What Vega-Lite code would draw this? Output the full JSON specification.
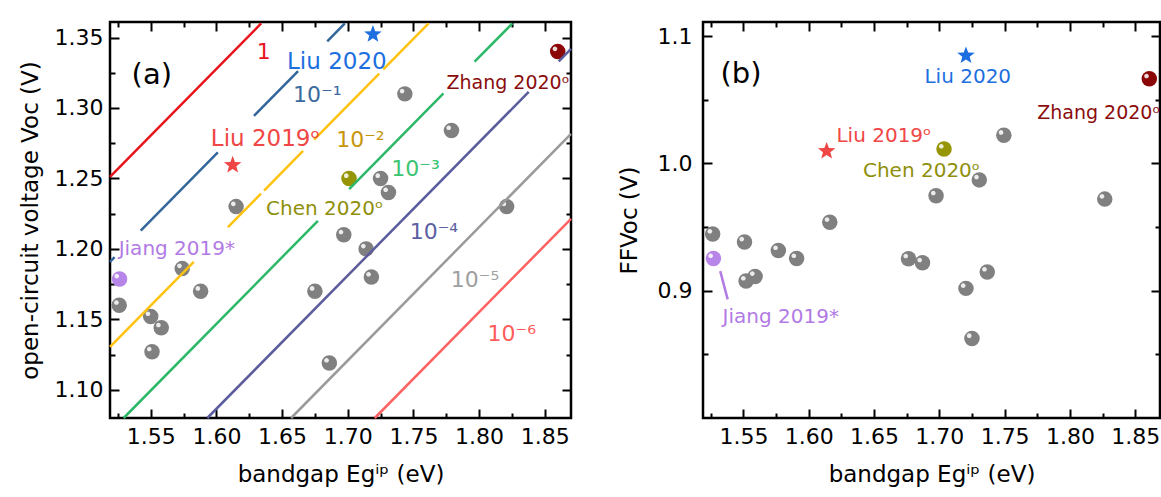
{
  "$schema": "https://vega.github.io/schema/vega-lite/v6.json",
  "padding": {"left": 17, "top": 17, "right": 2, "bottom": 2},
  "spacing": 38,
  "config": {
    "view": {"stroke": "#000000", "strokeWidth": 2.5},
    "font": "DejaVu Sans",
    "axis": {"grid": false, "domain": false, "tickColor": "#000000", "tickWidth": 2, "labelFont": "DejaVu Sans", "labelFontSize": 22, "labelColor": "#000000", "titleFont": "DejaVu Sans", "titleFontSize": 23, "titleFontWeight": "normal", "titleColor": "#000000"},
    "text": {"font": "DejaVu Sans", "align": "left", "baseline": "alphabetic"}
  },
  "datasets": {
    "lines_a": [
      {"ere": "1", "seg": "r1", "x": 1.519, "v": 1.2511}, {"ere": "1", "seg": "r1", "x": 1.6341, "v": 1.3600},
      {"ere": "10-1", "seg": "b1", "x": 1.519, "v": 1.1908}, {"ere": "10-1", "seg": "b1", "x": 1.5225, "v": 1.1941},
      {"ere": "10-1", "seg": "b2", "x": 1.5424, "v": 1.2129}, {"ere": "10-1", "seg": "b2", "x": 1.6011, "v": 1.2684},
      {"ere": "10-1", "seg": "b3", "x": 1.6286, "v": 1.2944}, {"ere": "10-1", "seg": "b3", "x": 1.6622, "v": 1.3262},
      {"ere": "10-1", "seg": "b4", "x": 1.6844, "v": 1.3472}, {"ere": "10-1", "seg": "b4", "x": 1.6978, "v": 1.3600},
      {"ere": "10-2", "seg": "y1", "x": 1.519, "v": 1.1305}, {"ere": "10-2", "seg": "y1", "x": 1.5828, "v": 1.1908},
      {"ere": "10-2", "seg": "y2", "x": 1.6088, "v": 1.2154}, {"ere": "10-2", "seg": "y2", "x": 1.634, "v": 1.2392},
      {"ere": "10-2", "seg": "y3", "x": 1.6363, "v": 1.2414}, {"ere": "10-2", "seg": "y3", "x": 1.666, "v": 1.2695},
      {"ere": "10-2", "seg": "y4", "x": 1.6744, "v": 1.2775}, {"ere": "10-2", "seg": "y4", "x": 1.724, "v": 1.3244},
      {"ere": "10-2", "seg": "y5", "x": 1.7271, "v": 1.3273}, {"ere": "10-2", "seg": "y5", "x": 1.7616, "v": 1.3600},
      {"ere": "10-3", "seg": "g1", "x": 1.5294, "v": 1.08}, {"ere": "10-3", "seg": "g1", "x": 1.6773, "v": 1.2199},
      {"ere": "10-3", "seg": "g2", "x": 1.7011, "v": 1.2424}, {"ere": "10-3", "seg": "g2", "x": 1.7729, "v": 1.3103},
      {"ere": "10-3", "seg": "g3", "x": 1.7966, "v": 1.3328}, {"ere": "10-3", "seg": "g3", "x": 1.8254, "v": 1.3600},
      {"ere": "10-4", "seg": "s1", "x": 1.5931, "v": 1.08}, {"ere": "10-4", "seg": "s1", "x": 1.8378, "v": 1.3114},
      {"ere": "10-4", "seg": "s2", "x": 1.8607, "v": 1.3331}, {"ere": "10-4", "seg": "s2", "x": 1.87, "v": 1.3419},
      {"ere": "10-5", "seg": "k1", "x": 1.6569, "v": 1.08}, {"ere": "10-5", "seg": "k1", "x": 1.87, "v": 1.2816},
      {"ere": "10-6", "seg": "l1", "x": 1.7206, "v": 1.08}, {"ere": "10-6", "seg": "l1", "x": 1.87, "v": 1.2213}
    ],
    "balls_a": [
      {"kind": "other", "x": 1.526, "v": 1.16}, {"kind": "other", "x": 1.55, "v": 1.152}, {"kind": "other", "x": 1.558, "v": 1.144},
      {"kind": "other", "x": 1.551, "v": 1.127}, {"kind": "other", "x": 1.574, "v": 1.186}, {"kind": "other", "x": 1.588, "v": 1.17},
      {"kind": "other", "x": 1.615, "v": 1.23}, {"kind": "other", "x": 1.675, "v": 1.17}, {"kind": "other", "x": 1.686, "v": 1.119},
      {"kind": "other", "x": 1.697, "v": 1.21}, {"kind": "other", "x": 1.714, "v": 1.2}, {"kind": "other", "x": 1.718, "v": 1.18},
      {"kind": "other", "x": 1.725, "v": 1.25}, {"kind": "other", "x": 1.731, "v": 1.24}, {"kind": "other", "x": 1.7435, "v": 1.31},
      {"kind": "other", "x": 1.779, "v": 1.284}, {"kind": "other", "x": 1.821, "v": 1.23},
      {"kind": "Chen", "x": 1.701, "v": 1.25}, {"kind": "Zhang", "x": 1.8599, "v": 1.34}, {"kind": "Jiang", "x": 1.5263, "v": 1.1787}
    ],
    "balls_b": [
      {"kind": "other", "x": 1.5264, "v": 0.9445}, {"kind": "other", "x": 1.5508, "v": 0.9383}, {"kind": "other", "x": 1.552, "v": 0.9076},
      {"kind": "other", "x": 1.5589, "v": 0.9112}, {"kind": "other", "x": 1.5767, "v": 0.9315}, {"kind": "other", "x": 1.5907, "v": 0.9252},
      {"kind": "other", "x": 1.6161, "v": 0.9537}, {"kind": "other", "x": 1.6764, "v": 0.925}, {"kind": "other", "x": 1.6871, "v": 0.9219},
      {"kind": "other", "x": 1.6975, "v": 0.9745}, {"kind": "other", "x": 1.7204, "v": 0.9018}, {"kind": "other", "x": 1.725, "v": 0.8625},
      {"kind": "other", "x": 1.7306, "v": 0.987}, {"kind": "other", "x": 1.7367, "v": 0.9146}, {"kind": "other", "x": 1.7494, "v": 1.0221},
      {"kind": "other", "x": 1.8267, "v": 0.9719},
      {"kind": "Chen", "x": 1.7036, "v": 1.0112}, {"kind": "Zhang", "x": 1.8608, "v": 1.0664}, {"kind": "Jiang", "x": 1.527, "v": 0.9252}
    ]
  },
  "hconcat": [
    {
      "width": 461,
      "height": 396,
      "resolve": {"axis": {"x": "independent", "y": "independent"}},
      "encoding": {
        "x": {"field": "x", "type": "quantitative", "scale": {"domain": [1.519, 1.87], "nice": false, "zero": false}, "axis": null},
        "y": {"field": "v", "type": "quantitative", "scale": {"domain": [1.08, 1.361], "nice": false, "zero": false}, "axis": null}
      },
      "layer": [
        {"data": {"name": "balls_a"}, "transform": [{"filter": {"field": "kind", "equal": "other"}}],
         "mark": {"type": "point", "shape": "circle", "filled": true, "size": 240, "strokeWidth": 0, "opacity": 1, "color": "#808080"},
         "encoding": {
           "x": {"field": "x", "type": "quantitative", "scale": {"domain": [1.519, 1.87], "nice": false, "zero": false},
             "axis": {"orient": "bottom", "values": [1.55, 1.6, 1.65, 1.7, 1.75, 1.8, 1.85], "format": ".2f", "tickSize": -9, "labelPadding": 17, "title": "bandgap Egⁱᵖ (eV)", "titlePadding": 16}},
           "y": {"field": "v", "type": "quantitative", "scale": {"domain": [1.08, 1.361], "nice": false, "zero": false},
             "axis": {"orient": "left", "values": [1.1, 1.15, 1.2, 1.25, 1.3, 1.35], "format": ".2f", "tickSize": -9, "labelPadding": 16, "title": "open-circuit voltage Voc (V)", "titlePadding": 12}}
         }},
        {"data": {"name": "balls_a"}, "transform": [{"filter": {"field": "kind", "equal": "Chen"}}],
         "mark": {"type": "point", "shape": "circle", "filled": true, "size": 240, "strokeWidth": 0, "opacity": 1, "color": "#959505"},
         "encoding": {
           "x": {"field": "x", "type": "quantitative", "scale": {"domain": [1.519, 1.87], "nice": false, "zero": false},
             "axis": {"orient": "bottom", "values": [1.525, 1.575, 1.625, 1.675, 1.725, 1.775, 1.825], "tickSize": -5, "labels": false, "title": null}},
           "y": {"field": "v", "type": "quantitative", "scale": {"domain": [1.08, 1.361], "nice": false, "zero": false},
             "axis": {"orient": "left", "values": [1.125, 1.175, 1.225, 1.275, 1.325], "tickSize": -5, "labels": false, "title": null}}
         }},
        {"data": {"name": "balls_a"}, "transform": [{"filter": {"field": "kind", "equal": "Zhang"}}],
         "mark": {"type": "point", "shape": "circle", "filled": true, "size": 240, "strokeWidth": 0, "opacity": 1, "color": "#8b0606"},
         "encoding": {
           "x": {"field": "x", "type": "quantitative", "scale": {"domain": [1.519, 1.87], "nice": false, "zero": false},
             "axis": {"orient": "top", "values": [1.55, 1.6, 1.65, 1.7, 1.75, 1.8, 1.85], "tickSize": -9, "labels": false, "title": null}},
           "y": {"field": "v", "type": "quantitative", "scale": {"domain": [1.08, 1.361], "nice": false, "zero": false},
             "axis": {"orient": "right", "values": [1.1, 1.15, 1.2, 1.25, 1.3, 1.35], "tickSize": -9, "labels": false, "title": null}}
         }},
        {"data": {"name": "balls_a"}, "transform": [{"filter": {"field": "kind", "equal": "Jiang"}}],
         "mark": {"type": "point", "shape": "circle", "filled": true, "size": 240, "strokeWidth": 0, "opacity": 1, "color": "#b784e8"},
         "encoding": {
           "x": {"field": "x", "type": "quantitative", "scale": {"domain": [1.519, 1.87], "nice": false, "zero": false},
             "axis": {"orient": "top", "values": [1.525, 1.575, 1.625, 1.675, 1.725, 1.775, 1.825], "tickSize": -5, "labels": false, "title": null}},
           "y": {"field": "v", "type": "quantitative", "scale": {"domain": [1.08, 1.361], "nice": false, "zero": false},
             "axis": {"orient": "right", "values": [1.125, 1.175, 1.225, 1.275, 1.325], "tickSize": -5, "labels": false, "title": null}}
         }},
        {"data": {"name": "balls_a"},
         "mark": {"type": "point", "filled": true, "size": 240, "strokeWidth": 0, "opacity": 0.85, "color": "#ffffff",
           "shape": "M -0.66 -0.36 A 0.3 0.3 0 1 1 -0.06 -0.36 A 0.3 0.3 0 1 1 -0.66 -0.36 Z"}},
        {"data": {"name": "lines_a"}, "transform": [{"filter": {"field": "ere", "equal": "1"}}],
         "mark": {"type": "line", "strokeWidth": 2.5, "color": "#e8141c"}, "encoding": {"detail": {"field": "seg", "type": "nominal"}}},
        {"data": {"name": "lines_a"}, "transform": [{"filter": {"field": "ere", "equal": "10-1"}}],
         "mark": {"type": "line", "strokeWidth": 2.5, "color": "#33669a"}, "encoding": {"detail": {"field": "seg", "type": "nominal"}}},
        {"data": {"name": "lines_a"}, "transform": [{"filter": {"field": "ere", "equal": "10-2"}}],
         "mark": {"type": "line", "strokeWidth": 2.5, "color": "#ffc20e"}, "encoding": {"detail": {"field": "seg", "type": "nominal"}}},
        {"data": {"name": "lines_a"}, "transform": [{"filter": {"field": "ere", "equal": "10-3"}}],
         "mark": {"type": "line", "strokeWidth": 2.5, "color": "#2cb868"}, "encoding": {"detail": {"field": "seg", "type": "nominal"}}},
        {"data": {"name": "lines_a"}, "transform": [{"filter": {"field": "ere", "equal": "10-4"}}],
         "mark": {"type": "line", "strokeWidth": 2.5, "color": "#5a5c9c"}, "encoding": {"detail": {"field": "seg", "type": "nominal"}}},
        {"data": {"name": "lines_a"}, "transform": [{"filter": {"field": "ere", "equal": "10-5"}}],
         "mark": {"type": "line", "strokeWidth": 2.5, "color": "#9a9a9a"}, "encoding": {"detail": {"field": "seg", "type": "nominal"}}},
        {"data": {"name": "lines_a"}, "transform": [{"filter": {"field": "ere", "equal": "10-6"}}],
         "mark": {"type": "line", "strokeWidth": 2.5, "color": "#ff6262"}, "encoding": {"detail": {"field": "seg", "type": "nominal"}}},
        {"data": {"values": [{"x": 1.7192, "v": 1.3523}]},
         "mark": {"type": "point", "filled": true, "size": 340, "strokeWidth": 0, "opacity": 1, "color": "#1d6fe0",
           "shape": "M 0 -1 L 0.247 -0.34 L 0.951 -0.309 L 0.4 0.13 L 0.588 0.809 L 0 0.42 L -0.588 0.809 L -0.4 0.13 L -0.951 -0.309 L -0.247 -0.34 Z"}},
        {"data": {"values": [{"x": 1.6124, "v": 1.2595}]},
         "mark": {"type": "point", "filled": true, "size": 340, "strokeWidth": 0, "opacity": 1, "color": "#f04646",
           "shape": "M 0 -1 L 0.247 -0.34 L 0.951 -0.309 L 0.4 0.13 L 0.588 0.809 L 0 0.42 L -0.588 0.809 L -0.4 0.13 L -0.951 -0.309 L -0.247 -0.34 Z"}},
        {"data": {"values": [{"t": "1", "x": 1.6308, "v": 1.3346}]}, "mark": {"type": "text", "fontSize": 22, "color": "#e8141c"}, "encoding": {"text": {"field": "t"}}},
        {"data": {"values": [{"t": "10⁻¹", "x": 1.6584, "v": 1.3039}]}, "mark": {"type": "text", "fontSize": 22, "color": "#3a6a9e"}, "encoding": {"text": {"field": "t"}}},
        {"data": {"values": [{"t": "10⁻²", "x": 1.6912, "v": 1.272}]}, "mark": {"type": "text", "fontSize": 22, "color": "#c8960c"}, "encoding": {"text": {"field": "t"}}},
        {"data": {"values": [{"t": "10⁻³", "x": 1.7332, "v": 1.2519}]}, "mark": {"type": "text", "fontSize": 22, "color": "#3cc472"}, "encoding": {"text": {"field": "t"}}},
        {"data": {"values": [{"t": "10⁻⁴", "x": 1.7472, "v": 1.207}]}, "mark": {"type": "text", "fontSize": 22, "color": "#5d60a2"}, "encoding": {"text": {"field": "t"}}},
        {"data": {"values": [{"t": "10⁻⁵", "x": 1.7785, "v": 1.1728}]}, "mark": {"type": "text", "fontSize": 22, "color": "#a0a0a0"}, "encoding": {"text": {"field": "t"}}},
        {"data": {"values": [{"t": "10⁻⁶", "x": 1.8065, "v": 1.1349}]}, "mark": {"type": "text", "fontSize": 22, "color": "#ff5c5c"}, "encoding": {"text": {"field": "t"}}},
        {"data": {"values": [{"t": "Liu 2020", "x": 1.6538, "v": 1.3275}]}, "mark": {"type": "text", "fontSize": 23, "color": "#1d6fe0"}, "encoding": {"text": {"field": "t"}}},
        {"data": {"values": [{"t": "Liu 2019ᵒ", "x": 1.5958, "v": 1.273}]}, "mark": {"type": "text", "fontSize": 23, "color": "#f04646"}, "encoding": {"text": {"field": "t"}}},
        {"data": {"values": [{"t": "Chen 2020ᵒ", "x": 1.6378, "v": 1.224}]}, "mark": {"type": "text", "fontSize": 20, "color": "#8f8f0c"}, "encoding": {"text": {"field": "t"}}},
        {"data": {"values": [{"t": "Zhang 2020ᵒ", "x": 1.7752, "v": 1.3134}]}, "mark": {"type": "text", "fontSize": 19, "color": "#8b0c0c"}, "encoding": {"text": {"field": "t"}}},
        {"data": {"values": [{"t": "Jiang 2019*", "x": 1.5256, "v": 1.1957}]}, "mark": {"type": "text", "fontSize": 20, "color": "#b27ae4"}, "encoding": {"text": {"field": "t"}}},
        {"data": {"values": [{"t": "(a)", "x": 1.5508, "v": 1.3173}]}, "mark": {"type": "text", "fontSize": 29, "align": "center", "color": "#000000"}, "encoding": {"text": {"field": "t"}}}
      ]
    },
    {
      "width": 457,
      "height": 396,
      "resolve": {"axis": {"x": "independent", "y": "independent"}},
      "encoding": {
        "x": {"field": "x", "type": "quantitative", "scale": {"domain": [1.519, 1.869], "nice": false, "zero": false}, "axis": null},
        "y": {"field": "v", "type": "quantitative", "scale": {"domain": [0.8, 1.111], "nice": false, "zero": false}, "axis": null}
      },
      "layer": [
        {"data": {"values": [{"x": 1.5322, "v": 0.9154}, {"x": 1.5379, "v": 0.8932}]},
         "mark": {"type": "line", "strokeWidth": 2.5, "color": "#b27ae4"}},
        {"data": {"name": "balls_b"}, "transform": [{"filter": {"field": "kind", "equal": "other"}}],
         "mark": {"type": "point", "shape": "circle", "filled": true, "size": 240, "strokeWidth": 0, "opacity": 1, "color": "#808080"},
         "encoding": {
           "x": {"field": "x", "type": "quantitative", "scale": {"domain": [1.519, 1.869], "nice": false, "zero": false},
             "axis": {"orient": "bottom", "values": [1.55, 1.6, 1.65, 1.7, 1.75, 1.8, 1.85], "format": ".2f", "tickSize": -9, "labelPadding": 17, "title": "bandgap Egⁱᵖ (eV)", "titlePadding": 16}},
           "y": {"field": "v", "type": "quantitative", "scale": {"domain": [0.8, 1.111], "nice": false, "zero": false},
             "axis": {"orient": "left", "values": [0.9, 1.0, 1.1], "format": ".1f", "tickSize": -9, "labelPadding": 20, "title": "FFVoc (V)", "titlePadding": 16}}
         }},
        {"data": {"name": "balls_b"}, "transform": [{"filter": {"field": "kind", "equal": "Chen"}}],
         "mark": {"type": "point", "shape": "circle", "filled": true, "size": 240, "strokeWidth": 0, "opacity": 1, "color": "#959505"},
         "encoding": {
           "x": {"field": "x", "type": "quantitative", "scale": {"domain": [1.519, 1.869], "nice": false, "zero": false},
             "axis": {"orient": "bottom", "values": [1.525, 1.575, 1.625, 1.675, 1.725, 1.775, 1.825], "tickSize": -5, "labels": false, "title": null}},
           "y": {"field": "v", "type": "quantitative", "scale": {"domain": [0.8, 1.111], "nice": false, "zero": false},
             "axis": {"orient": "left", "values": [0.85, 0.95, 1.05], "tickSize": -5, "labels": false, "title": null}}
         }},
        {"data": {"name": "balls_b"}, "transform": [{"filter": {"field": "kind", "equal": "Zhang"}}],
         "mark": {"type": "point", "shape": "circle", "filled": true, "size": 240, "strokeWidth": 0, "opacity": 1, "color": "#8b0606"},
         "encoding": {
           "x": {"field": "x", "type": "quantitative", "scale": {"domain": [1.519, 1.869], "nice": false, "zero": false},
             "axis": {"orient": "top", "values": [1.55, 1.6, 1.65, 1.7, 1.75, 1.8, 1.85], "tickSize": -9, "labels": false, "title": null}},
           "y": {"field": "v", "type": "quantitative", "scale": {"domain": [0.8, 1.111], "nice": false, "zero": false},
             "axis": {"orient": "right", "values": [0.9, 1.0, 1.1], "tickSize": -9, "labels": false, "title": null}}
         }},
        {"data": {"name": "balls_b"}, "transform": [{"filter": {"field": "kind", "equal": "Jiang"}}],
         "mark": {"type": "point", "shape": "circle", "filled": true, "size": 240, "strokeWidth": 0, "opacity": 1, "color": "#b784e8"},
         "encoding": {
           "x": {"field": "x", "type": "quantitative", "scale": {"domain": [1.519, 1.869], "nice": false, "zero": false},
             "axis": {"orient": "top", "values": [1.525, 1.575, 1.625, 1.675, 1.725, 1.775, 1.825], "tickSize": -5, "labels": false, "title": null}},
           "y": {"field": "v", "type": "quantitative", "scale": {"domain": [0.8, 1.111], "nice": false, "zero": false},
             "axis": {"orient": "right", "values": [0.85, 0.95, 1.05], "tickSize": -5, "labels": false, "title": null}}
         }},
        {"data": {"name": "balls_b"},
         "mark": {"type": "point", "filled": true, "size": 240, "strokeWidth": 0, "opacity": 0.85, "color": "#ffffff",
           "shape": "M -0.66 -0.36 A 0.3 0.3 0 1 1 -0.06 -0.36 A 0.3 0.3 0 1 1 -0.66 -0.36 Z"}},
        {"data": {"values": [{"x": 1.7204, "v": 1.0846}]},
         "mark": {"type": "point", "filled": true, "size": 340, "strokeWidth": 0, "opacity": 1, "color": "#1d6fe0",
           "shape": "M 0 -1 L 0.247 -0.34 L 0.951 -0.309 L 0.4 0.13 L 0.588 0.809 L 0 0.42 L -0.588 0.809 L -0.4 0.13 L -0.951 -0.309 L -0.247 -0.34 Z"}},
        {"data": {"values": [{"x": 1.6137, "v": 1.0096}]},
         "mark": {"type": "point", "filled": true, "size": 340, "strokeWidth": 0, "opacity": 1, "color": "#f04646",
           "shape": "M 0 -1 L 0.247 -0.34 L 0.951 -0.309 L 0.4 0.13 L 0.588 0.809 L 0 0.42 L -0.588 0.809 L -0.4 0.13 L -0.951 -0.309 L -0.247 -0.34 Z"}},
        {"data": {"values": [{"t": "Liu 2020", "x": 1.6886, "v": 1.0633}]}, "mark": {"type": "text", "fontSize": 20, "color": "#1d6fe0"}, "encoding": {"text": {"field": "t"}}},
        {"data": {"values": [{"t": "Liu 2019ᵒ", "x": 1.6212, "v": 1.0164}]}, "mark": {"type": "text", "fontSize": 20, "color": "#f04646"}, "encoding": {"text": {"field": "t"}}},
        {"data": {"values": [{"t": "Chen 2020ᵒ", "x": 1.6415, "v": 0.9891}]}, "mark": {"type": "text", "fontSize": 20, "color": "#8f8f0c"}, "encoding": {"text": {"field": "t"}}},
        {"data": {"values": [{"t": "Zhang 2020ᵒ", "x": 1.775, "v": 1.0352}]}, "mark": {"type": "text", "fontSize": 19, "color": "#8b0c0c"}, "encoding": {"text": {"field": "t"}}},
        {"data": {"values": [{"t": "Jiang 2019*", "x": 1.534, "v": 0.875}]}, "mark": {"type": "text", "fontSize": 20, "color": "#b27ae4"}, "encoding": {"text": {"field": "t"}}},
        {"data": {"values": [{"t": "(b)", "x": 1.5481, "v": 1.0629}]}, "mark": {"type": "text", "fontSize": 29, "align": "center", "color": "#000000"}, "encoding": {"text": {"field": "t"}}}
      ]
    }
  ]
}
